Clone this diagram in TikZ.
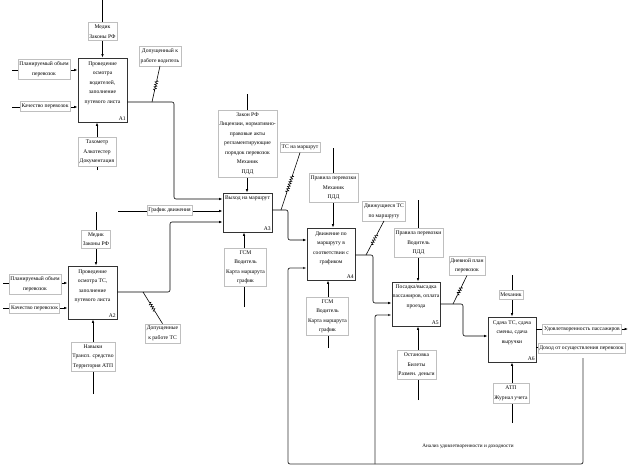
\documentclass[tikz,border=0pt]{standalone}
\usepackage{fontspec}
\setmainfont{Liberation Serif}
\usetikzlibrary{arrows.meta,calc,decorations.pathmorphing}

\tikzset{
  func/.style={draw=black!80,line width=0.9pt,fill=white,inner sep=0pt},
  ftext/.style={align=center,font=\fontsize{5.6}{9.5}\selectfont,inner sep=1pt,anchor=north},
  fnum/.style={font=\fontsize{5.6}{6}\selectfont,inner sep=1.5pt,anchor=south east},
  lbl/.style={draw=black!25,fill=white,align=center,font=\fontsize{5.6}{9.5}\selectfont,inner xsep=1.5pt,inner ysep=2.5pt},
  arr/.style={-{Latex[length=3.5pt,width=2.5pt]},line width=0.6pt,rounded corners=2pt},
}
\newcommand{\tunnel}[2]{\draw[line width=0.6pt] (#1) -- ($(#1)!0.4!(#2)$) decorate[decoration={zigzag,segment length=2.5pt,amplitude=1.3pt}]{-- ($(#1)!0.7!(#2)$)} -- (#2);}

\begin{document}
\begin{tikzpicture}[x=1pt,y=-1pt]
\useasboundingbox (0,0) rectangle (634,471);

% function boxes
\node[func,minimum width=49pt,minimum height=64pt] (A1) at (102.5,90) {};
\node[ftext] (A1t) at ([yshift=-3pt]A1.north) {Проведение\\осмотра\\водителей,\\заполнение\\путевого листа};
\node[fnum] (A1n) at (A1.south east) {A1};
\node[func,minimum width=49pt,minimum height=53pt] (A2) at (92.5,292.5) {};
\node[ftext] (A2t) at ([yshift=-3pt]A2.north) {Проведение\\осмотра ТС,\\заполнение\\путевого листа};
\node[fnum] (A2n) at (A2.south east) {A2};
\node[func,minimum width=49pt,minimum height=39pt] (A3) at (247.5,212.5) {};
\node[ftext] (A3t) at ([yshift=-2pt]A3.north) {Выход на маршрут};
\node[fnum] (A3n) at (A3.south east) {A3};
\node[func,minimum width=48pt,minimum height=52pt] (A4) at (331,254) {};
\node[ftext] (A4t) at ([yshift=-3pt]A4.north) {Движение по\\маршруту в\\соответствии с\\графиком};
\node[fnum] (A4n) at (A4.south east) {A4};
\node[func,minimum width=48pt,minimum height=44pt] (A5) at (416,304) {};
\node[ftext] (A5t) at ([yshift=-2pt]A5.north) {Посадка/высадка\\пассажиров, оплата\\проезда};
\node[fnum] (A5n) at (A5.south east) {A5};
\node[func,minimum width=48pt,minimum height=45pt] (A6) at (512,339.5) {};
\node[ftext] (A6t) at ([yshift=-3pt]A6.north) {Сдача ТС, сдача\\смены, сдача\\выручки};
\node[fnum] (A6n) at (A6.south east) {A6};

% free ends
\coordinate (A1c) at (102.5,0);
\coordinate (A1i1) at (12,70);
\coordinate (A1i2) at (12,107);
\coordinate (A1m) at (97,170);
\coordinate (A2c) at (96,212);
\coordinate (A2i1) at (3,283);
\coordinate (A2i2) at (3,308);
\coordinate (A2m) at (93,394);
\coordinate (A3c) at (247,94);
\coordinate (A3i) at (118,211);
\coordinate (A3m) at (244,307);
\coordinate (A4c) at (333,148);
\coordinate (A4m) at (328,348);
\coordinate (A5c) at (418,200);
\coordinate (A5m) at (418,400);
\coordinate (A6c) at (512,275);
\coordinate (A6m) at (512,423);
\coordinate (A6o1) at (628,329);
\coordinate (A6o2) at (625,347);
\coordinate (fb) at (583,358);
\coordinate (fbs) at (375,464);

% A1
\draw[arr] (A1c) -- (A1c |- A1.north);
\draw[arr] (A1i1) -- (A1i1 -| A1.west);
\draw[arr] (A1i2) -- (A1i2 -| A1.west);
\draw[arr] (A1m) -- (A1m |- A1.south);
\draw[arr] (A1.east |- 0,102) -| (174,160) |- (A3.west |- 0,199);
% A2
\draw[arr] (A2c) -- (A2c |- A2.north);
\draw[arr] (A2i1) -- (A2i1 -| A2.west);
\draw[arr] (A2i2) -- (A2i2 -| A2.west);
\draw[arr] (A2m) -- (A2m |- A2.south);
\draw[arr] (A2.east |- 0,292) -| (170,250) |- (A3.west |- 0,222);
% A3
\draw[arr] (A3c) -- (A3c |- A3.north);
\draw[arr] (A3i) -- (A3i -| A3.west);
\draw[arr] (A3m) -- (A3m |- A3.south);
\draw[arr] (A3.east |- 0,210) -| (288,225) |- (A4.west |- 0,240);
% A4
\draw[arr] (A4c) -- (A4c |- A4.north);
\draw[arr] (A4m) -- (A4m |- A4.south);
\draw[arr] (A4.east |- 0,255) -| (373,280) |- (A5.west |- 0,303);
% A5
\draw[arr] (A5c) -- (A5c |- A5.north);
\draw[arr] (A5m) -- (A5m |- A5.south);
\draw[arr] (A5.east |- 0,304) -| (463,320) |- (A6.west |- 0,336);
% A6
\draw[arr] (A6c) -- (A6c |- A6.north);
\draw[arr] (A6m) -- (A6m |- A6.south);
\draw[arr] (A6.east |- A6o1) -- (A6o1);
\draw[arr] (A6.east |- A6o2) -- (A6o2);
% feedback
\draw[arr,draw=black!80,line width=0.8pt] (fb) |- (288,464) |- (A4.west |- 0,268);
\draw[arr,draw=black!80,line width=0.8pt] (fbs) |- (A5.west |- 0,315);

% labels
\node[lbl] (L1c) at (102.5,31.5) {Медик\\Законы РФ};
\node[lbl] (L1i1) at (44,69) {Планируемый объем\\перевозок};
\node[lbl] (L1i2) at (45,106.5) {Качество перевозок};
\node[lbl] (L1m) at (97,152) {Тахометр\\Алкотестер\\Документация};
\node[lbl] (L1o) at (160,56) {Допущенный к\\работе водитель};
\node[lbl] (L2c) at (96,239) {Медик\\Законы РФ};
\node[lbl] (L2i1) at (35,284) {Планируемый объем\\перевозок};
\node[lbl] (L2i2) at (34.5,308.5) {Качество перевозок};
\node[lbl] (L2m) at (93,356.5) {Навыки\\Трансп. средство\\Территория АТП};
\node[lbl] (L2o) at (162.5,333.5) {Допущенные\\к работе ТС};
\node[lbl] (L3i) at (169.5,210.5) {График движения};
\node[lbl] (L3c) at (247.5,143.5) {Закон РФ\\Лицензии, нормативно-\\правовые акты\\регламентирующие\\порядок перевозок\\Механик\\ПДД};
\node[lbl] (L3m) at (245.5,267) {ГСМ\\Водитель\\Карта маршрута\\график};
\node[lbl] (L3o) at (300,147.5) {ТС на маршрут};
\node[lbl] (L4c) at (333.5,188) {Правила перевозки\\Механик\\ПДД};
\node[lbl] (L4m) at (327.5,316) {ГСМ\\Водитель\\Карта маршрута\\график};
\node[lbl] (L4o) at (384,211) {Движущиеся ТС\\по маршруту};
\node[lbl] (L5c) at (418.5,243) {Правила перевозки\\Водитель\\ПДД};
\node[lbl] (L5m) at (416.5,365) {Остановка\\Билеты\\Размен. деньги};
\node[lbl] (L5o) at (467,265.5) {Дневной план\\перевозок};
\node[lbl] (L6c) at (511,295) {Механик};
\node[lbl] (L6m) at (511,393) {АТП\\Журнал учета};
\node[lbl] (L6o1) at (582,329.5) {Удовлетворенность пассажиров};
\node[lbl] (L6o2) at (581.5,348) {Доход от осуществления перевозок};
\node[font=\fontsize{5.2}{6}\selectfont] (Lfb) at (468,446) {Анализ удовлетворенности и доходности};

% tunnels
\tunnel{L1o.south}{152,102}
\tunnel{L2o.north}{143,292}
\tunnel{L3o.south}{281,210}
\tunnel{L4o.south}{366,255}
\tunnel{L5o.south}{453,304}
\end{tikzpicture}
\end{document}
